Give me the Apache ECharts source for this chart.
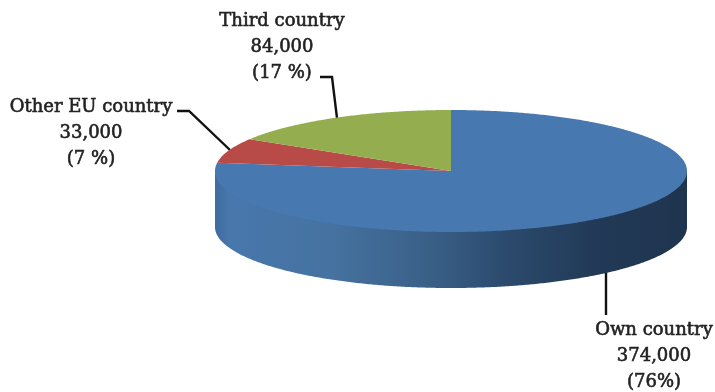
<!DOCTYPE html>
<html>
<head>
<meta charset="utf-8">
<style>
  html, body { margin: 0; padding: 0; background: #fff; }
  #chart { width: 715px; height: 392px; }
</style>
<script src="https://cdn.jsdelivr.net/npm/echarts@6/dist/echarts.min.js"></script>
</head>
<body>
<div id="chart"></div>
<script>
const categories = ['Own country', 'Other EU country', 'Third country'];
const values = [374000, 33000, 84000];
const valueLabels = ['374,000', '33,000', '84,000'];
const shareLabels = ['(76%)', '(7 %)', '(17 %)'];

// look of the tilted disc
const COLORS = ['#4878b0', '#b84a47', '#93ad4f'];
const CX = 451, CY = 171, RX = 236, RY = 61, DEPTH = 56;
// excel's 3d view squeezes the angles a little, boundaries sit ~3deg off a plain ellipse
const VIEW_WARP = 3.5;
const WALL_STOPS = [
  { offset: 0, color: '#3f6c9f' },
  { offset: 0.03, color: '#4877ad' },
  { offset: 0.25, color: '#45729f' },
  { offset: 0.45, color: '#3a6088' },
  { offset: 0.62, color: '#2b4a6d' },
  { offset: 0.8, color: '#223a57' },
  { offset: 1, color: '#1f344e' }
];
const LABEL_POS = [[654, 356], [91, 133], [282, 47.5]];
const LEADERS = [
  [[606, 272], [606, 315]],
  [[177, 111], [189, 111], [230, 150]],
  [[320, 77], [332, 77], [337, 118]]
];

const total = values.reduce((a, b) => a + b, 0);

function warp(deg) {
  return deg - VIEW_WARP * Math.sin(deg * Math.PI / 180);
}

function rimPoint(deg, dy) {
  const r = deg * Math.PI / 180;
  return [CX + RX * Math.sin(r), CY - RY * Math.cos(r) + (dy || 0)];
}

function arcPoints(from, to, dy) {
  const pts = [];
  const n = Math.max(2, Math.ceil(Math.abs(to - from) * 2));
  for (let i = 0; i <= n; i++) pts.push(rimPoint(from + (to - from) * i / n, dy));
  return pts;
}

function renderSlice(params, api) {
  const i = params.dataIndex;
  let before = 0;
  for (let k = 0; k < i; k++) before += values[k];
  const a0 = warp(before / total * 360);
  const a1 = warp((before + api.value(0)) / total * 360);
  const children = [];

  children.push({
    type: 'polyline',
    shape: { points: LEADERS[i] },
    style: { stroke: '#111', lineWidth: 2.4, fill: null }
  });

  // front wall only shows between 90 and 270 degrees
  const lo = Math.max(a0, 90), hi = Math.min(a1, 270);
  if (hi > lo) {
    children.push({
      type: 'polygon',
      // top edge runs under the lid so no light seam shows
      shape: { points: arcPoints(lo, hi, -3).concat(arcPoints(hi, lo, DEPTH)) },
      style: {
        fill: {
          type: 'linear', global: true,
          x: CX - RX, y: 0, x2: CX + RX, y2: 0,
          colorStops: WALL_STOPS
        }
      }
    });
  }

  children.push({
    type: 'polygon',
    shape: { points: [[CX, CY]].concat(arcPoints(a0, a1, 0)) },
    style: { fill: COLORS[i] }
  });

  children.push({
    type: 'text',
    x: LABEL_POS[i][0],
    y: LABEL_POS[i][1],
    style: {
      text: categories[i] + '\n' + valueLabels[i] + '\n' + shareLabels[i],
      fill: '#222',
      font: '18px "DejaVu Serif", serif',
      lineHeight: 26,
      align: 'center',
      verticalAlign: 'middle',
      stroke: '#222',
      lineWidth: 0.6
    }
  });

  return { type: 'group', children };
}

const chart = echarts.init(document.getElementById('chart'));
chart.setOption({
  backgroundColor: '#fff',
  animation: false,
  series: [{
    type: 'custom',
    coordinateSystem: 'none',
    renderItem: renderSlice,
    data: values.map((v, i) => ({ name: categories[i], value: [v] }))
  }]
});
</script>
</body>
</html>
